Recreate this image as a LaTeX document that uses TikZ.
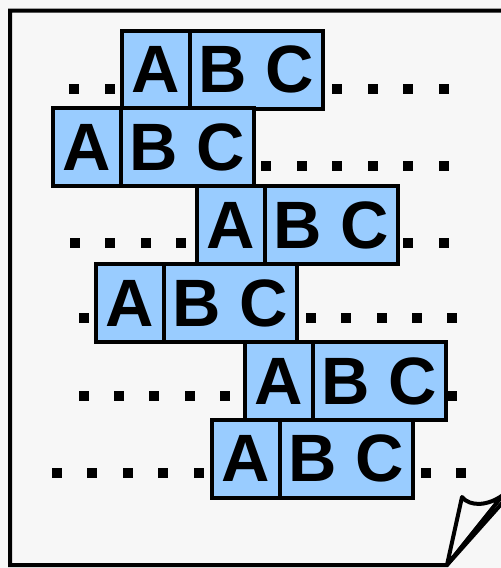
\documentclass[tikz,border=0pt]{standalone}
\usepackage{fontspec}
\setmainfont{Liberation Sans}
\usepackage{tikz}
\usetikzlibrary{positioning}
\definecolor{PageGrey}{HTML}{F7F7F7}
\definecolor{CellBlue}{HTML}{99CCFF}

\begin{document}
\begin{tikzpicture}[x=0.5pt,y=-0.5pt,
  cell/.style={draw, line width=2pt, fill=CellBlue, outer sep=0pt, inner sep=0pt,
    minimum height=39pt, font=\bfseries\fontsize{33.5}{40}\selectfont},
  acell/.style={cell, minimum width=34pt},
  bccell/.style={cell, minimum width=66.5pt}]
  \useasboundingbox (0,0) rectangle (501,568);
  \fill[PageGrey] (0,0) rectangle (501,568);
  \clip (0,0) rectangle (501,568);
  % sheet with the curled corner
  \draw[line width=2pt, fill=PageGrey, line join=miter] (447,565) -- (10,565) -- (10,10.5) -- (520,10.5) -- (520,483) -- cycle;
  \draw[line width=2pt, fill=PageGrey, line join=round] (447,565) -- (462,497) .. controls (470,507) and (488,506) .. (503,495) -- cycle;
  % dots
  \foreach \y/\xs in {89/{74,110,337,373,408,444}, 166/{266,302,337,373,408,444},
      243/{75,110,146,181,408,444}, 318/{84,311,346,382,417,452},
      396/{84,119,154,190,225,452}, 473/{57,92,128,163,199,426,461}}
    \foreach \x in \xs {\fill (\x-4.75,\y-4.75) rectangle (\x+4.75,\y+4.75);}
  % rows of letters
  \foreach \i/\x/\y in {1/156/69.5, 2/87/147, 3/231/225, 4/130/303, 5/279/381, 6/246/458.5}{
    \node[acell] (a\i) at (\x,\y) {A};
    \node[bccell, right=0pt of a\i] (bc\i) {B C};
  }
\end{tikzpicture}
\end{document}
